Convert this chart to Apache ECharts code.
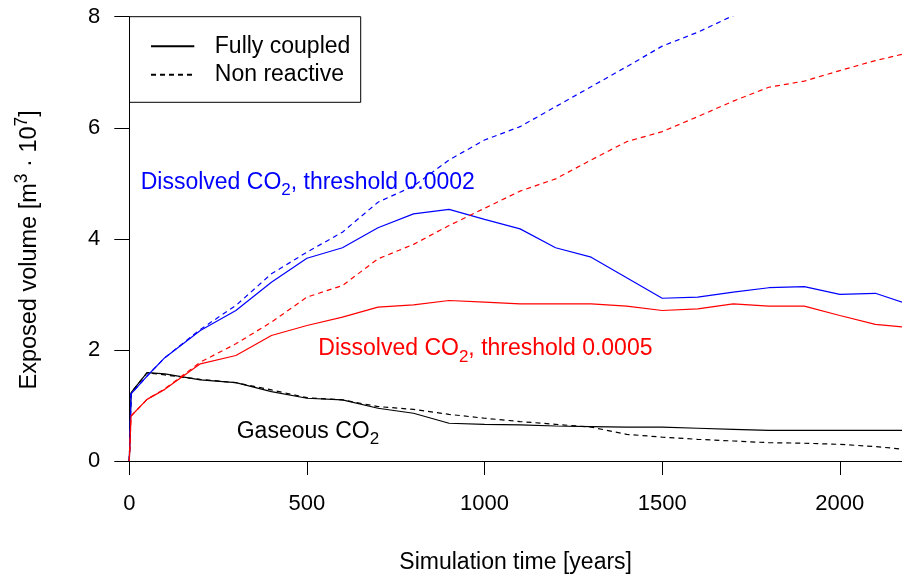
<!DOCTYPE html>
<html>
<head>
<meta charset="utf-8">
<script src="https://cdn.jsdelivr.net/npm/echarts@6/dist/echarts.min.js"></script>
<style>
  html, body { margin: 0; padding: 0; background: #fff; }
  #chart { width: 902px; height: 575px; }
</style>
</head>
<body>
<div id="chart"></div>
<script>
var years = [0, 5, 50, 100, 200, 300, 400, 500, 600, 700, 800, 900, 1000, 1100, 1200, 1300, 1400, 1500, 1600, 1700, 1800, 1900, 2000, 2100, 2200];
// dissolved CO2, threshold 0.0002
var blueCoupled = [0, 1.21, 1.53, 1.86, 2.35, 2.71, 3.22, 3.65, 3.84, 4.20, 4.45, 4.53, 4.35, 4.18, 3.84, 3.67, 3.30, 2.93, 2.95, 3.04, 3.12, 3.14, 3.00, 3.02, 2.81];
var blueNonReactive = [0, 1.21, 1.53, 1.86, 2.37, 2.80, 3.37, 3.76, 4.12, 4.66, 4.95, 5.42, 5.78, 6.02, 6.38, 6.74, 7.10, 7.47, 7.72, 8.02, 8.30, 8.58, 8.85, 9.10, 9.35];
// dissolved CO2, threshold 0.0005
var redCoupled = [0, 0.81, 1.11, 1.29, 1.75, 1.90, 2.26, 2.44, 2.59, 2.77, 2.81, 2.89, 2.86, 2.83, 2.83, 2.83, 2.79, 2.71, 2.74, 2.83, 2.79, 2.79, 2.62, 2.46, 2.40];
var redNonReactive = [0, 0.81, 1.11, 1.30, 1.78, 2.11, 2.50, 2.95, 3.16, 3.64, 3.90, 4.24, 4.55, 4.86, 5.08, 5.42, 5.75, 5.93, 6.20, 6.48, 6.73, 6.84, 7.03, 7.21, 7.36];
// gaseous CO2
var blackCoupled = [0, 1.23, 1.59, 1.57, 1.46, 1.41, 1.25, 1.13, 1.10, 0.95, 0.86, 0.68, 0.66, 0.65, 0.63, 0.62, 0.61, 0.61, 0.59, 0.57, 0.55, 0.55, 0.55, 0.55, 0.55];
var blackNonReactive = [0, 1.23, 1.59, 1.55, 1.47, 1.41, 1.28, 1.14, 1.10, 0.98, 0.93, 0.84, 0.77, 0.71, 0.66, 0.61, 0.48, 0.43, 0.39, 0.36, 0.33, 0.32, 0.30, 0.26, 0.20];
var xTicks = [0, 500, 1000, 1500, 2000];

var FONT = '"Liberation Sans", Arial, Helvetica, sans-serif';
var dash = [5, 4];

function pairs(ys) {
    return years.map(function (t, i) { return [t, ys[i]]; });
}
function line(name, ys, color, type) {
    return {
        name: name,
        type: 'line',
        data: ys ? pairs(ys) : [],
        symbol: 'none',
        silent: true,
        animation: false,
        clip: true,
        lineStyle: { color: color, width: 1.2, type: type },
        itemStyle: { color: color }
    };
}

// label with a subscript "2" in CO2
function coLabel(x, y, before, after, color) {
    return {
        type: 'text',
        x: x, y: y,
        silent: true,
        style: {
            text: '{a|' + before + '}{s|2}{a|' + after + '}',
            fill: color,
            verticalAlign: 'top',
            rich: {
                a: { fontSize: 23, fontFamily: FONT, lineHeight: 28, verticalAlign: 'top', fill: color },
                s: { fontSize: 17, fontFamily: FONT, lineHeight: 15, verticalAlign: 'bottom', fill: color }
            }
        }
    };
}

var chart = echarts.init(document.getElementById('chart'), null, { renderer: 'canvas' });
var option = {
    backgroundColor: '#fff',
    animation: false,
    grid: { left: 129.3, right: 0, top: 16.7, bottom: 114, containLabel: false, outerBoundsMode: 'none' },
    legend: {
        left: 150, top: 34.7,
        orient: 'vertical',
        padding: 0,
        itemWidth: 43.3,
        itemHeight: 22,
        itemGap: 5.6,
        selectedMode: false,
        data: ['Fully coupled', 'Non reactive'],
        itemStyle: { color: 'rgba(0,0,0,0)', borderWidth: 0, opacity: 0 },
        textStyle: { fontSize: 23, fontFamily: FONT, color: '#000', lineHeight: 22, padding: [0, 0, 0, 15.5] }
    },
    xAxis: [{
        type: 'value',
        min: 0, max: 2175,
        interval: 500,
        splitLine: { show: false },
        axisLine: { show: true, onZero: false, lineStyle: { color: '#000', width: 1 } },
        axisTick: { show: true, length: 14, customValues: xTicks, lineStyle: { color: '#000' } },
        axisLabel: {
            customValues: xTicks, margin: 32,
            fontSize: 22, fontFamily: FONT, color: '#000',
            formatter: function (v) { return String(v); }
        },
        name: 'Simulation time [years]',
        nameLocation: 'middle',
        nameGap: 90,
        nameTextStyle: { fontSize: 23, fontFamily: FONT, color: '#000' }
    }, {
        type: 'value',
        position: 'top',
        min: 0, max: 2175,
        splitLine: { show: false },
        axisLine: { show: true, lineStyle: { color: '#000', width: 1 } },
        axisTick: { show: false },
        axisLabel: { show: false }
    }],
    yAxis: {
        type: 'value',
        min: 0, max: 8, interval: 2,
        splitLine: { show: false },
        axisLine: { show: true, onZero: false, lineStyle: { color: '#000', width: 1 } },
        axisTick: { show: true, length: 15, lineStyle: { color: '#000' } },
        axisLabel: { margin: 29, fontSize: 22, fontFamily: FONT, color: '#000' },
        name: '{a|Exposed volume [m}{s|3}{a| · 10}{s|7}{a|]}',
        nameLocation: 'middle',
        nameRotate: 90,
        nameGap: 88,
        nameTextStyle: {
            color: '#000',
            padding: [0, 22, 0, 0],
            rich: {
                a: { fontSize: 23.5, fontFamily: FONT, color: '#000', lineHeight: 28, verticalAlign: 'bottom' },
                s: { fontSize: 17.5, fontFamily: FONT, color: '#000', lineHeight: 17, verticalAlign: 'top' }
            }
        }
    },
    series: [
        line('Fully coupled', null, '#000', 'solid'),
        line('Non reactive', null, '#000', dash),
        line('Gaseous CO2, fully coupled', blackCoupled, '#000', 'solid'),
        line('Gaseous CO2, non reactive', blackNonReactive, '#000', dash),
        line('Dissolved 0.0002, fully coupled', blueCoupled, '#0000ff', 'solid'),
        line('Dissolved 0.0002, non reactive', blueNonReactive, '#0000ff', dash),
        line('Dissolved 0.0005, fully coupled', redCoupled, '#ff0000', 'solid'),
        line('Dissolved 0.0005, non reactive', redNonReactive, '#ff0000', dash)
    ],
    graphic: [
        {
            type: 'rect',
            silent: true,
            shape: { x: 129.5, y: 16.7, width: 231.2, height: 85.6 },
            style: { fill: 'none', stroke: '#000', lineWidth: 1 }
        },
        coLabel(140.7, 171, 'Dissolved CO', ', threshold 0.0002', '#0000ff'),
        coLabel(318.3, 337.5, 'Dissolved CO', ', threshold 0.0005', '#ff0000'),
        coLabel(236.7, 420, 'Gaseous CO', '', '#000')
    ]
};
chart.setOption(option);
</script>
</body>
</html>
